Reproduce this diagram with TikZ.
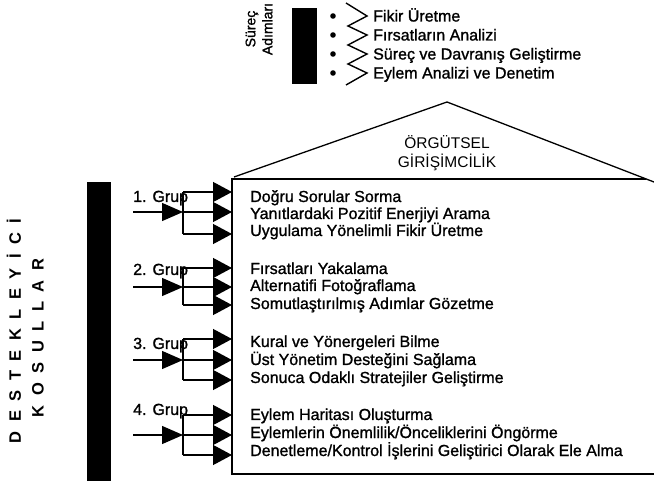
\documentclass[tikz,border=0pt]{standalone}
\usepackage{fontspec}
\setmainfont{Liberation Sans}
\newfontfamily\heavy{Liberation Sans}[FakeBold=1.2]
\usetikzlibrary{arrows.meta}
\newcommand\lsp{\hspace{9.5pt}}
\begin{document}
\begin{tikzpicture}[x=1pt,y=-1pt,
  txt/.style={font=\heavy\fontsize{16}{18}\selectfont, anchor=base west, inner sep=0pt},
  lbl/.style={font=\heavy\fontsize{16}{18}\selectfont, anchor=west, inner sep=0pt},
  thick line/.style={line width=1.3pt},
  boxhead/.style={thick line,-{Triangle[length=19pt,width=20pt]}},
  inhead/.style={thick line,-{Triangle[length=21pt,width=18pt]}},
  vert/.style={rotate=90, inner sep=0pt, font=\fontsize{16.5}{18}\selectfont\bfseries},
  ]
\useasboundingbox (0,0) rectangle (654,481);

% legend
\fill (292,8) rectangle (317,84);
\node[rotate=90, align=center, inner sep=0pt, font=\heavy\fontsize{14}{17}\selectfont] (steps) at (259,29) {Süreç\\Adımları};
\foreach \y in {16,35,54,73} \fill (333,\y) circle (2.8);
\draw[line width=1.4pt, line join=miter] (346,3) -- (367,16) -- (348,26) -- (367,35) -- (348,45) -- (367,54) -- (348,64) -- (367,73) -- (346,85);
\node[txt] (s1) at (373,21.5) {Fikir Üretme};
\node[txt] (s2) at (373,40.5) {Fırsatların Analizi};
\node[txt] (s3) at (373,59.5) {Süreç ve Davranış Geliştirme};
\node[txt] (s4) at (373,78.5) {Eylem Analizi ve Denetim};

% house
\draw[thick line] (234,177) -- (447,102) -- (654,182);
\draw[thick line] (646,179) -- (232,179) -- (232,474) -- (654,474);
\node[align=center, inner sep=0pt, font=\fontsize{15.5}{19}\selectfont] (title) at (447,153) {ÖRGÜTSEL\\GİRİŞİMCİLİK};

% left bar and text
\fill (87,182) rectangle (111,481);
\node[vert] (dest) at (14,331) {D\lsp E\lsp S\lsp T\lsp E\lsp K\lsp L\lsp E\lsp Y\lsp İ\lsp C\lsp İ};
\node[vert] (kos) at (38,338) {K\lsp O\lsp S\lsp U\lsp L\lsp L\lsp A\lsp R};

% groups
\foreach \g/\t/\m/\b/\ly in {1/192/212/234/198, 2/268/287/305/271, 3/339/360/380/345, 4/415/435/455/411} {
  \coordinate (in\g) at (133,\m);
  \coordinate (jt\g) at (183,\t);
  \coordinate (jm\g) at (183,\m);
  \coordinate (jb\g) at (183,\b);
  \coordinate (et\g) at (232,\t);
  \coordinate (em\g) at (232,\m);
  \coordinate (eb\g) at (232,\b);
  \node[lbl] (grp\g) at (133,\ly) {\g. Grup};
  \draw[thick line] (jt\g) -- (jb\g);
  \draw[boxhead] (jt\g) -- (et\g);
  \draw[boxhead] (jm\g) -- (em\g);
  \draw[boxhead] (jb\g) -- (eb\g);
  \draw[inhead] (in\g) -- (jm\g);
}

% group texts
\node[txt] (a1) at (250,202) {Doğru Sorular Sorma};
\node[txt] (a2) at (250,219) {Yanıtlardaki Pozitif Enerjiyi Arama};
\node[txt] (a3) at (250,236) {Uygulama Yönelimli Fikir Üretme};
\node[txt] (b1) at (250,274) {Fırsatları Yakalama};
\node[txt] (b2) at (250,291) {Alternatifi Fotoğraflama};
\node[txt] (b3) at (250,309) {Somutlaştırılmış Adımlar Gözetme};
\node[txt] (c1) at (250,347) {Kural ve Yönergeleri Bilme};
\node[txt] (c2) at (250,365) {Üst Yönetim Desteğini Sağlama};
\node[txt] (c3) at (250,383) {Sonuca Odaklı Stratejiler Geliştirme};
\node[txt] (d1) at (250,420) {Eylem Haritası Oluşturma};
\node[txt] (d2) at (250,438) {Eylemlerin Önemlilik/Önceliklerini Öngörme};
\node[txt] (d3) at (250,456) {Denetleme/Kontrol İşlerini Geliştirici Olarak Ele Alma};
\end{tikzpicture}
\end{document}
